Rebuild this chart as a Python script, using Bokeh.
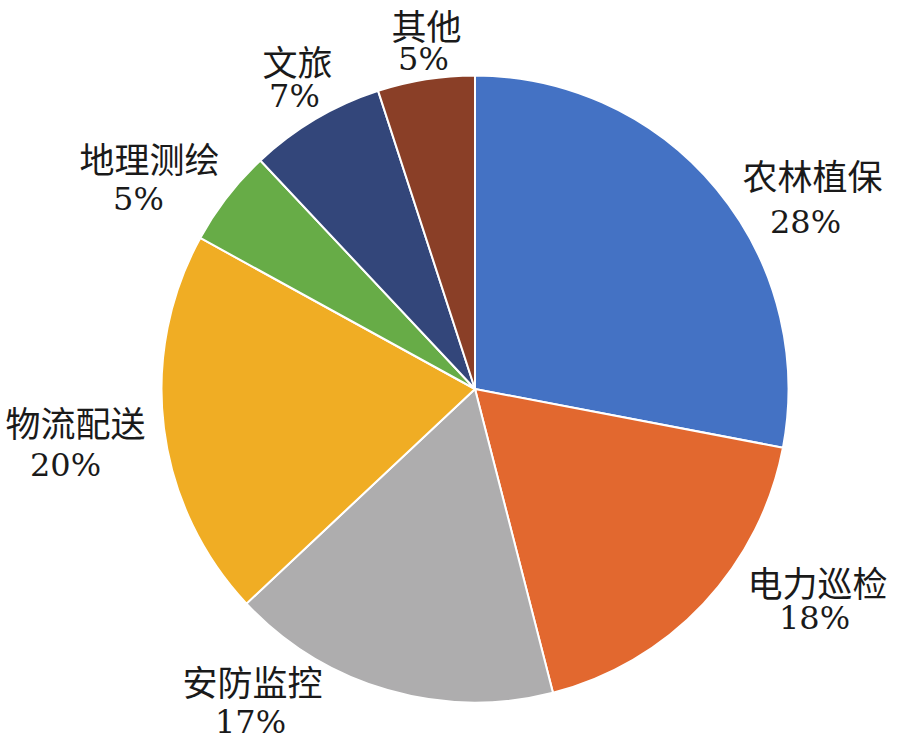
import math
from bokeh.plotting import figure
from bokeh.models import ColumnDataSource, Range1d
from bokeh.core.properties import value
from bokeh.embed import file_html
from bokeh.resources import INLINE

# ---- data ----
categories = ["农林植保", "电力巡检", "安防监控", "物流配送", "地理测绘", "文旅", "其他"]
shares = [28, 18, 17, 20, 5, 7, 5]
colors = ["#4472C4", "#E2682F", "#AEADAE", "#F0AD24", "#67AC47", "#33467A", "#8A3F27"]

# ---- layout (canvas pixel positions of label centres) ----
W, H = 890, 741
CX, CY, R = 474.5, 388.5, 313.5
name_pos = [(812, 174), (817, 581), (252, 680), (75, 421), (149, 157), (297, 60), (426, 24)]
pct_pos = [(805, 221), (814, 617), (250, 721), (65, 464), (138, 198), (294, 95), (423, 58)]

total = float(sum(shares))
starts, ends = [], []
acc = 0.0
for s in shares:
    starts.append(math.pi / 2 - 2 * math.pi * acc / total)
    acc += s
    ends.append(math.pi / 2 - 2 * math.pi * acc / total)

src = ColumnDataSource(dict(start=starts, end=ends, color=colors))

p = figure(width=W, height=H, output_backend="svg", toolbar_location=None,
           x_range=Range1d(0, W), y_range=Range1d(0, H), min_border=0)
p.axis.visible = False
p.grid.visible = False
p.outline_line_color = None
p.background_fill_color = "white"

p.wedge(x=CX, y=H - CY, radius=R, start_angle="start", end_angle="end",
        direction="clock", fill_color="color", line_color="white", line_width=2,
        source=src)

name_src = ColumnDataSource(dict(x=[q[0] for q in name_pos], y=[H - q[1] for q in name_pos],
                                 t=categories))
pct_src = ColumnDataSource(dict(x=[q[0] for q in pct_pos], y=[H - q[1] for q in pct_pos],
                                t=[f"{s}%" for s in shares]))

p.text(x="x", y="y", text="t", source=name_src, text_font=value("Noto Sans CJK SC"),
       text_font_size="35px", text_align="center", text_baseline="middle",
       text_color="#1a1a1a")
p.text(x="x", y="y", text="t", source=pct_src,
       text_font=value("DejaVu Serif"),
       text_font_size="32px", text_align="center", text_baseline="middle",
       text_color="#1a1a1a")

open("out.html", "w").write(file_html(p, INLINE))
